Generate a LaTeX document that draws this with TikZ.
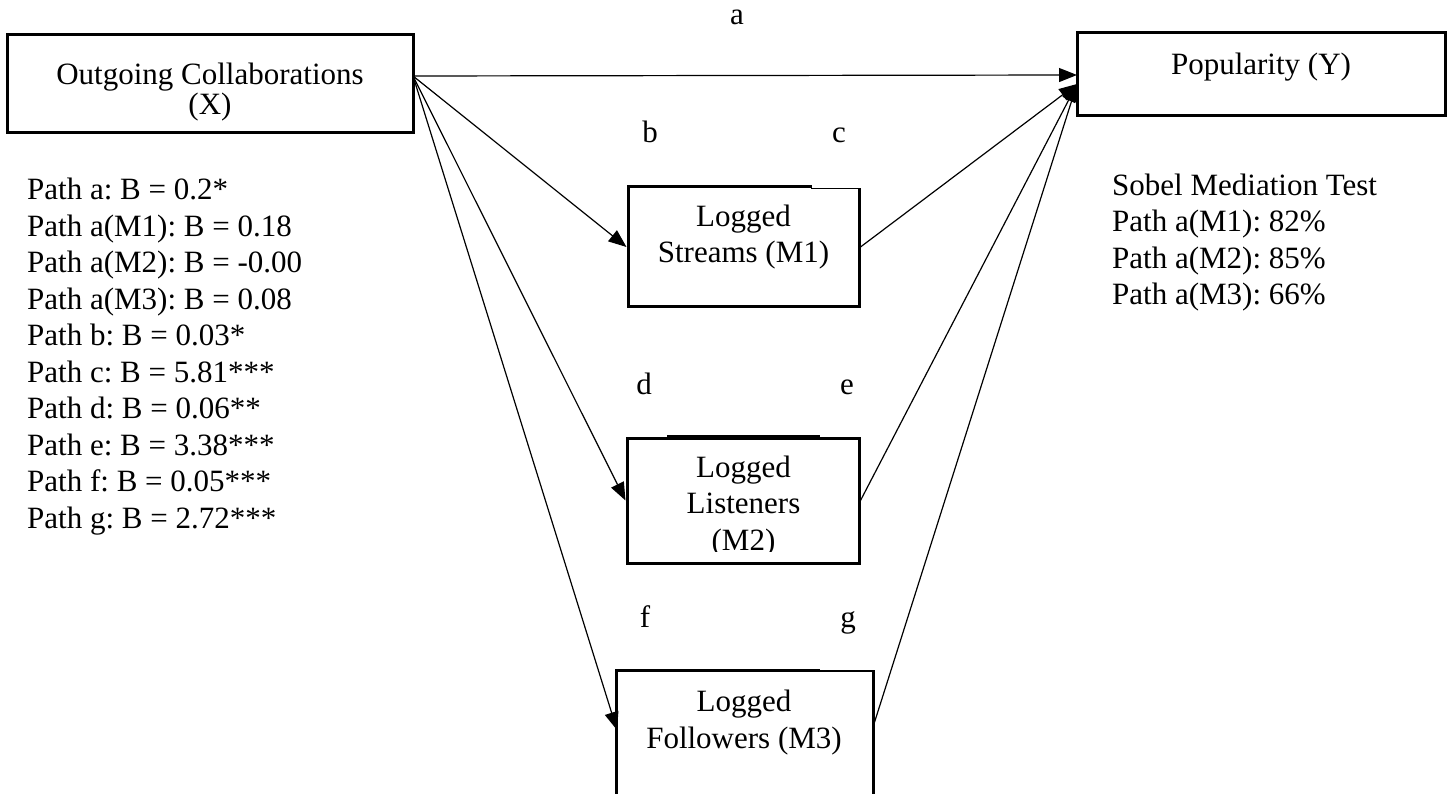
\documentclass[tikz,border=0pt]{standalone}
\usepackage{fontspec}
\setmainfont{Liberation Serif}
\usetikzlibrary{arrows.meta,calc}
\frenchspacing
\begin{document}
\begin{tikzpicture}[x=1pt,y=-1pt,
  box/.style={draw, line width=3pt, inner sep=0pt},
  txt/.style={font=\fontsize{31}{36.5}\selectfont, inner sep=0pt, align=center, anchor=base},
  txtx/.style={font=\fontsize{31}{30}\selectfont, inner sep=0pt, align=center, anchor=base},
  lst/.style={font=\fontsize{31}{36.5}\selectfont, inner sep=0pt, align=left, anchor=base west},
  lbl/.style={font=\fontsize{31}{36.5}\selectfont, inner sep=0pt, anchor=base},
  arr/.style={line width=1.2pt, -{Triangle[length=18pt,width=14pt]}},
  ln/.style={line width=1.2pt}]
\useasboundingbox (0,0) rectangle (1452,794);
\clip (0,0) rectangle (1452,794);

% boxes
\node[box, minimum width=406pt, minimum height=98pt] (X) at (210,84) {};
\node[box, minimum width=368pt, minimum height=83pt] (Y) at (1261,74.5) {};
\node[box, minimum width=231pt, minimum height=120pt] (M1) at (743.5,247) {};
\node[box, minimum width=232pt, minimum height=125pt] (M2) at (743,500.5) {};
\node[box, minimum width=257pt, minimum height=150pt] (M3) at (744.5,745) {};

% top edge irregularities
\draw[white, line width=3.4pt] (812,187) -- (861,187);
\draw[line width=1.4pt] (811,188.3) -- (860.5,188.3);
\draw[line width=3pt] (667,436) -- (820,436);
\draw[white, line width=3.4pt] (820,670) -- (875,670);
\draw[line width=1.4pt] (819,671) -- (874.5,671);

% box texts (anchor base = last line)
\node[txtx] (Xt) at (210,115) {Outgoing Collaborations\\(X)};
\node[txt] (Yt) at (1261,75) {Popularity (Y)};
\node[txt] (M1t) at (743.5,263) {Logged\\Streams (M1)};
\begin{scope}
  \clip (627,438) rectangle (859,551.7);
  \node[txt] (M2t) at (743.5,550) {Logged\\Listeners\\(M2)};
\end{scope}
\node[txt] (M3t) at (744,748) {Logged\\Followers (M3)};

% connectors
\coordinate (xo) at (413,76);
\coordinate (ya) at (1077,75);
\coordinate (yi) at (1077,84);
\coordinate (m3in) at (617,730);
\coordinate (m3out) at (873,727);
\draw[arr] (xo) -- (ya);
\draw[arr] (xo) -- (M1.west);
\draw[arr] (xo) -- (M2.west);
\draw[arr] (xo) -- (m3in);
\draw[arr] (M1.east) -- (yi);
\draw[arr] (M2.east) -- (yi);
\draw[arr] (m3out) -- (yi);

% path labels
\node[lbl] (la) at (737,25) {a};
\node[lbl] (lb) at (650,143) {b};
\node[lbl] (lc) at (839,143) {c};
\node[lbl] (ld) at (644,395) {d};
\node[lbl] (le) at (847,395) {e};
\node[lbl] (lf) at (645,627) {f};
\node[lbl] (lg) at (848,627) {g};

% coefficient list
\node[lst] (coef) at (27,528) {Path a: B = 0.2*\\Path a(M1): B = 0.18\\Path a(M2): B = -0.00\\Path a(M3): B = 0.08\\Path b: B = 0.03*\\Path c: B = 5.81***\\Path d: B = 0.06**\\Path e: B = 3.38***\\Path f: B = 0.05***\\Path g: B = 2.72***};

% Sobel
\node[lst] (sobel) at (1112,305) {Sobel Mediation Test\\Path a(M1): 82\%\\Path a(M2): 85\%\\Path a(M3): 66\%};
\end{tikzpicture}
\end{document}
